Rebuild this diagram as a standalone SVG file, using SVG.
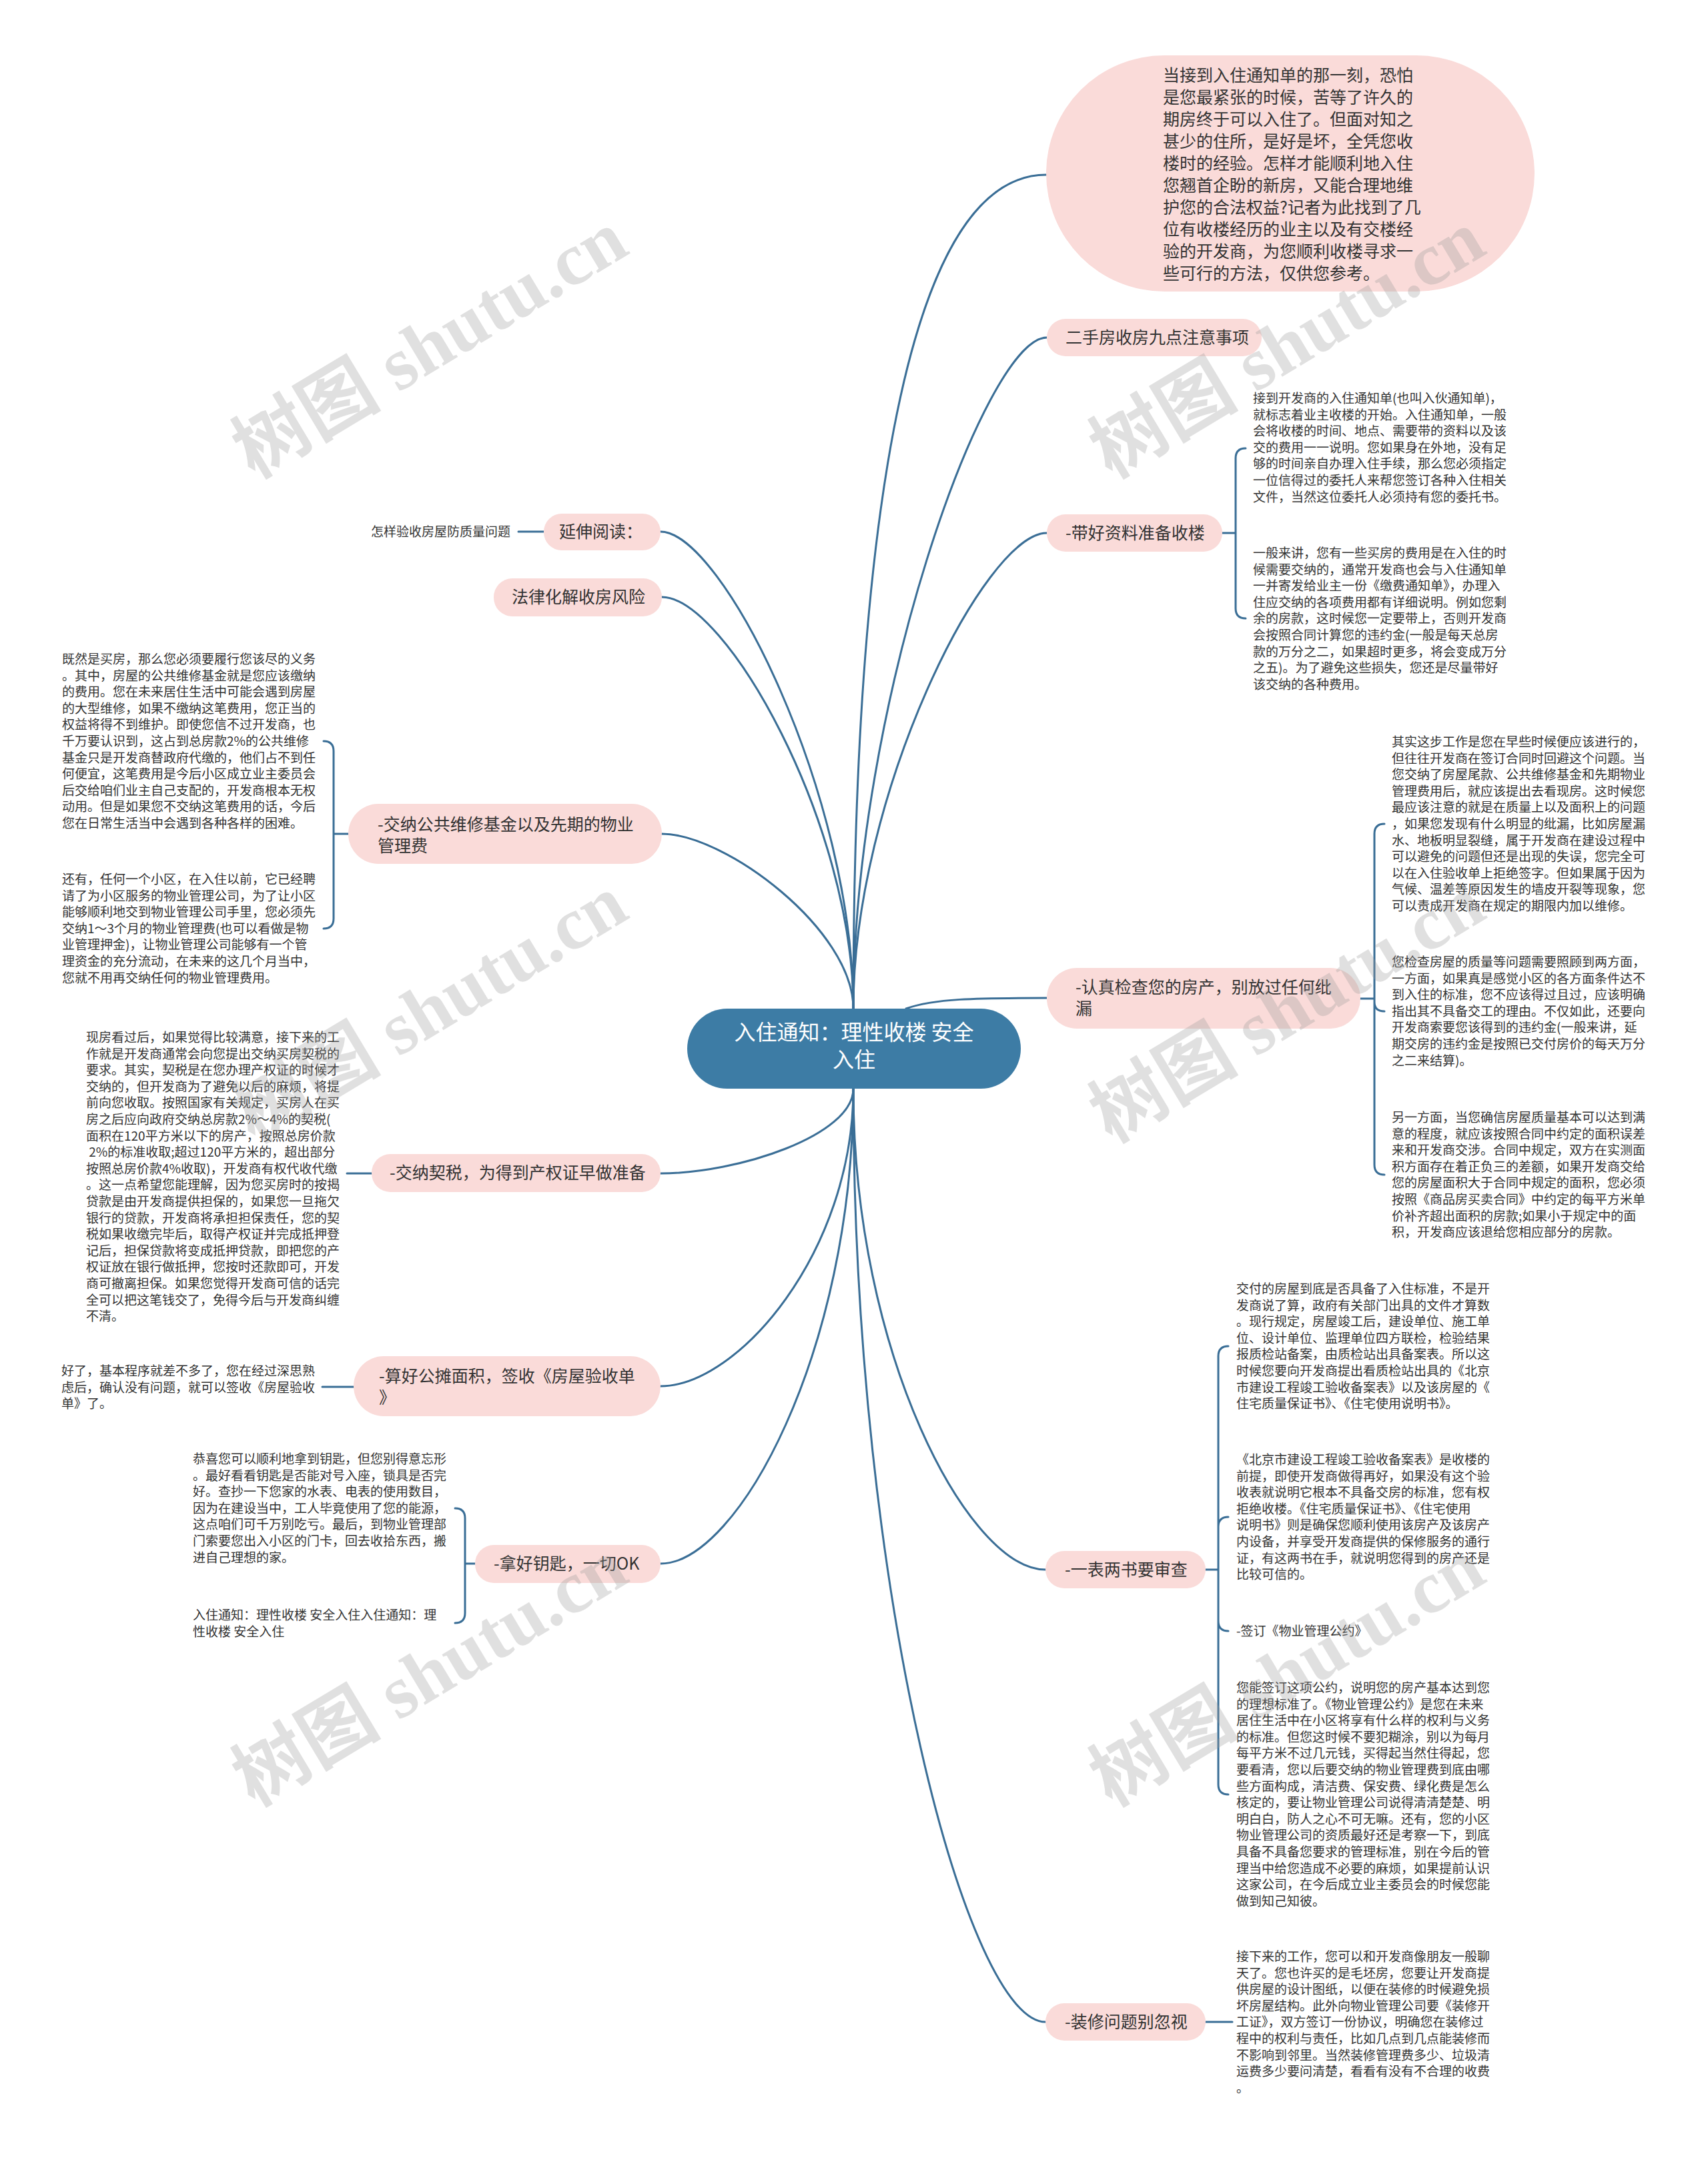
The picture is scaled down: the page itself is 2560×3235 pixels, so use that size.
<svg xmlns="http://www.w3.org/2000/svg" width="2560" height="3235" viewBox="0 0 2560 3235">
<style>
.bg{fill:#ffffff}
.n{fill:#fadbd9}
.c{fill:none;stroke:#3a6e96;stroke-width:3;stroke-linecap:round}
.t{font-family:"Noto Sans CJK SC","Liberation Sans",sans-serif;font-size:25px;fill:#333333}
.s{font-family:"Noto Sans CJK SC","Liberation Sans",sans-serif;font-size:19px;fill:#333333}
.ct{font-family:"Noto Sans CJK SC","Liberation Sans",sans-serif;font-size:32px;fill:#ffffff}
.wm{font-family:"Liberation Serif","Noto Sans CJK SC",serif;font-size:112px;font-weight:bold;fill:#9a9a9a;opacity:0.3}
</style>
<rect class="bg" x="0" y="0" width="2560" height="3235"/>

<g id="connectors">
<path class="c" d="M1279 1512 C1279 1000 1320 262 1568 262"/>
<path class="c" d="M1279 1512 C1279 1059 1476 506 1569 506"/>
<path class="c" d="M1279 1512 C1279 1191 1476 799 1569 799"/>
<path class="c" d="M1279 1512 C1279 1190 1082 797 990 797"/>
<path class="c" d="M1279 1512 C1279 1234 1087 895 992 895"/>
<path class="c" d="M1279 1512 C1279 1394 1087 1250 992 1250"/>
<path class="c" d="M1358 1512 C1400 1497 1460 1496 1569 1496"/>
<path class="c" d="M1279 1632 C1279 1702 1106 1759 990 1759"/>
<path class="c" d="M1279 1632 C1279 1877 1106 2078 990 2078"/>
<path class="c" d="M1279 1632 C1279 2024 1106 2344 990 2344"/>
<path class="c" d="M1279 1632 C1279 2029 1452 2353 1567 2353"/>
<path class="c" d="M1279 1632 C1279 2401 1452 3031 1567 3031"/>
<!-- leaf connectors -->
<path class="c" d="M815 797 H777"/>
<path class="c" d="M1832 799 H1852 M1852 799 V687 Q1852 672 1867 672 M1852 799 V912 Q1852 927 1867 927"/>
<path class="c" d="M2039 1497 H2060 M2060 1497 V1250 Q2060 1235 2075 1235 M2060 1497 V1502 Q2060 1516 2075 1516 M2060 1497 V1746 Q2060 1761 2075 1761"/>
<path class="c" d="M522 1250 H500 M500 1250 V1126 Q500 1111 485 1111 M500 1250 V1377 Q500 1392 485 1392"/>
<path class="c" d="M557 1759 H520"/>
<path class="c" d="M530 2079 H483"/>
<path class="c" d="M712 2344 H697 M697 2344 V2276 Q697 2261 682 2261 M697 2344 V2418 Q697 2433 682 2433"/>
<path class="c" d="M1807 2353 H1826 M1826 2353 V2033 Q1826 2018 1841 2018 M1826 2353 V2289 Q1826 2274 1841 2274 M1826 2353 V2430 Q1826 2445 1841 2445 M1826 2353 V2675 Q1826 2690 1841 2690"/>
<path class="c" d="M1807 3031 H1847"/>
</g>

<g id="center">
<rect x="1030" y="1512" width="500" height="120" rx="60" fill="#3d7ca5"/>
<text class="ct" text-anchor="middle"><tspan x="1280" y="1559">入住通知：理性收楼 安全</tspan><tspan x="1280" y="1600">入住</tspan></text>
</g>

<g id="intro">
<rect class="n" x="1568" y="83" width="732" height="354" rx="177"/>
<text class="t"><tspan x="1743" y="122">当接到入住通知单的那一刻，恐怕</tspan><tspan x="1743" dy="33">是您最紧张的时候，苦等了许久的</tspan><tspan x="1743" dy="33">期房终于可以入住了。但面对知之</tspan><tspan x="1743" dy="33">甚少的住所，是好是坏，全凭您收</tspan><tspan x="1743" dy="33">楼时的经验。怎样才能顺利地入住</tspan><tspan x="1743" dy="33">您翘首企盼的新房，又能合理地维</tspan><tspan x="1743" dy="33">护您的合法权益?记者为此找到了几</tspan><tspan x="1743" dy="33">位有收楼经历的业主以及有交楼经</tspan><tspan x="1743" dy="33">验的开发商，为您顺利收楼寻求一</tspan><tspan x="1743" dy="33">些可行的方法，仅供您参考。</tspan></text>
</g>

<g id="n-ershou">
<rect class="n" x="1569" y="478" width="322" height="56" rx="28"/>
<text class="t" x="1597" y="515">二手房收房九点注意事项</text>
</g>

<g id="n-daihao">
<rect class="n" x="1569" y="771" width="263" height="56" rx="28"/>
<text class="t" x="1597" y="808">-带好资料准备收楼</text>
<text class="s"><tspan x="1878" y="604">接到开发商的入住通知单(也叫入伙通知单)，</tspan><tspan x="1878" dy="24.6">就标志着业主收楼的开始。入住通知单，一般</tspan><tspan x="1878" dy="24.6">会将收楼的时间、地点、需要带的资料以及该</tspan><tspan x="1878" dy="24.6">交的费用一一说明。您如果身在外地，没有足</tspan><tspan x="1878" dy="24.6">够的时间亲自办理入住手续，那么您必须指定</tspan><tspan x="1878" dy="24.6">一位信得过的委托人来帮您签订各种入住相关</tspan><tspan x="1878" dy="24.6">文件，当然这位委托人必须持有您的委托书。</tspan></text>
<text class="s"><tspan x="1878" y="836">一般来讲，您有一些买房的费用是在入住的时</tspan><tspan x="1878" dy="24.6">候需要交纳的，通常开发商也会与入住通知单</tspan><tspan x="1878" dy="24.6">一并寄发给业主一份《缴费通知单》，办理入</tspan><tspan x="1878" dy="24.6">住应交纳的各项费用都有详细说明。例如您剩</tspan><tspan x="1878" dy="24.6">余的房款，这时候您一定要带上，否则开发商</tspan><tspan x="1878" dy="24.6">会按照合同计算您的违约金(一般是每天总房</tspan><tspan x="1878" dy="24.6">款的万分之二，如果超时更多，将会变成万分</tspan><tspan x="1878" dy="24.6">之五)。为了避免这些损失，您还是尽量带好</tspan><tspan x="1878" dy="24.6">该交纳的各种费用。</tspan></text>
</g>

<g id="n-yanshen">
<rect class="n" x="815" y="770" width="175" height="55" rx="27"/>
<text class="t" x="838" y="806">延伸阅读：</text>
<text class="s" x="556" y="804">怎样验收房屋防质量问题</text>
</g>

<g id="n-falv">
<rect class="n" x="740" y="867" width="252" height="57" rx="28"/>
<text class="t" x="767" y="904">法律化解收房风险</text>
</g>

<g id="n-gonggong">
<rect class="n" x="522" y="1205" width="470" height="90" rx="45"/>
<text class="t"><tspan x="566" y="1245">-交纳公共维修基金以及先期的物业</tspan><tspan x="566" dy="32">管理费</tspan></text>
<text class="s"><tspan x="93" y="995">既然是买房，那么您必须要履行您该尽的义务</tspan><tspan x="93" dy="24.6">。其中，房屋的公共维修基金就是您应该缴纳</tspan><tspan x="93" dy="24.6">的费用。您在未来居住生活中可能会遇到房屋</tspan><tspan x="93" dy="24.6">的大型维修，如果不缴纳这笔费用，您正当的</tspan><tspan x="93" dy="24.6">权益将得不到维护。即使您信不过开发商，也</tspan><tspan x="93" dy="24.6">千万要认识到，这占到总房款2%的公共维修</tspan><tspan x="93" dy="24.6">基金只是开发商替政府代缴的，他们占不到任</tspan><tspan x="93" dy="24.6">何便宜，这笔费用是今后小区成立业主委员会</tspan><tspan x="93" dy="24.6">后交给咱们业主自己支配的，开发商根本无权</tspan><tspan x="93" dy="24.6">动用。但是如果您不交纳这笔费用的话，今后</tspan><tspan x="93" dy="24.6">您在日常生活当中会遇到各种各样的困难。</tspan></text>
<text class="s"><tspan x="93" y="1325">还有，任何一个小区，在入住以前，它已经聘</tspan><tspan x="93" dy="24.6">请了为小区服务的物业管理公司，为了让小区</tspan><tspan x="93" dy="24.6">能够顺利地交到物业管理公司手里，您必须先</tspan><tspan x="93" dy="24.6">交纳1～3个月的物业管理费(也可以看做是物</tspan><tspan x="93" dy="24.6">业管理押金)，让物业管理公司能够有一个管</tspan><tspan x="93" dy="24.6">理资金的充分流动，在未来的这几个月当中，</tspan><tspan x="93" dy="24.6">您就不用再交纳任何的物业管理费用。</tspan></text>
</g>

<g id="n-jiancha">
<rect class="n" x="1569" y="1451" width="470" height="91" rx="45"/>
<text class="t"><tspan x="1612" y="1489">-认真检查您的房产，别放过任何纰</tspan><tspan x="1612" dy="32">漏</tspan></text>
<text class="s"><tspan x="2086" y="1119">其实这步工作是您在早些时候便应该进行的，</tspan><tspan x="2086" dy="24.6">但往往开发商在签订合同时回避这个问题。当</tspan><tspan x="2086" dy="24.6">您交纳了房屋尾款、公共维修基金和先期物业</tspan><tspan x="2086" dy="24.6">管理费用后，就应该提出去看现房。这时候您</tspan><tspan x="2086" dy="24.6">最应该注意的就是在质量上以及面积上的问题</tspan><tspan x="2086" dy="24.6">，如果您发现有什么明显的纰漏，比如房屋漏</tspan><tspan x="2086" dy="24.6">水、地板明显裂缝，属于开发商在建设过程中</tspan><tspan x="2086" dy="24.6">可以避免的问题但还是出现的失误，您完全可</tspan><tspan x="2086" dy="24.6">以在入住验收单上拒绝签字。但如果属于因为</tspan><tspan x="2086" dy="24.6">气候、温差等原因发生的墙皮开裂等现象，您</tspan><tspan x="2086" dy="24.6">可以责成开发商在规定的期限内加以维修。</tspan></text>
<text class="s"><tspan x="2086" y="1449">您检查房屋的质量等问题需要照顾到两方面，</tspan><tspan x="2086" dy="24.6">一方面，如果真是感觉小区的各方面条件达不</tspan><tspan x="2086" dy="24.6">到入住的标准，您不应该得过且过，应该明确</tspan><tspan x="2086" dy="24.6">指出其不具备交工的理由。不仅如此，还要向</tspan><tspan x="2086" dy="24.6">开发商索要您该得到的违约金(一般来讲，延</tspan><tspan x="2086" dy="24.6">期交房的违约金是按照已交付房价的每天万分</tspan><tspan x="2086" dy="24.6">之二来结算)。</tspan></text>
<text class="s"><tspan x="2086" y="1682">另一方面，当您确信房屋质量基本可以达到满</tspan><tspan x="2086" dy="24.6">意的程度，就应该按照合同中约定的面积误差</tspan><tspan x="2086" dy="24.6">来和开发商交涉。合同中规定，双方在实测面</tspan><tspan x="2086" dy="24.6">积方面存在着正负三的差额，如果开发商交给</tspan><tspan x="2086" dy="24.6">您的房屋面积大于合同中规定的面积，您必须</tspan><tspan x="2086" dy="24.6">按照《商品房买卖合同》中约定的每平方米单</tspan><tspan x="2086" dy="24.6">价补齐超出面积的房款;如果小于规定中的面</tspan><tspan x="2086" dy="24.6">积，开发商应该退给您相应部分的房款。</tspan></text>
</g>

<g id="n-qishui">
<rect class="n" x="557" y="1730" width="433" height="57" rx="28"/>
<text class="t" x="584" y="1767">-交纳契税，为得到产权证早做准备</text>
<text class="s"><tspan x="129" y="1562">现房看过后，如果觉得比较满意，接下来的工</tspan><tspan x="129" dy="24.6">作就是开发商通常会向您提出交纳买房契税的</tspan><tspan x="129" dy="24.6">要求。其实，契税是在您办理产权证的时候才</tspan><tspan x="129" dy="24.6">交纳的，但开发商为了避免以后的麻烦，将提</tspan><tspan x="129" dy="24.6">前向您收取。按照国家有关规定，买房人在买</tspan><tspan x="129" dy="24.6">房之后应向政府交纳总房款2%～4%的契税(</tspan><tspan x="129" dy="24.6">面积在120平方米以下的房产，按照总房价款</tspan><tspan x="129" dy="24.6"> 2%的标准收取;超过120平方米的，超出部分</tspan><tspan x="129" dy="24.6">按照总房价款4%收取)，开发商有权代收代缴</tspan><tspan x="129" dy="24.6">。这一点希望您能理解，因为您买房时的按揭</tspan><tspan x="129" dy="24.6">贷款是由开发商提供担保的，如果您一旦拖欠</tspan><tspan x="129" dy="24.6">银行的贷款，开发商将承担担保责任，您的契</tspan><tspan x="129" dy="24.6">税如果收缴完毕后，取得产权证并完成抵押登</tspan><tspan x="129" dy="24.6">记后，担保贷款将变成抵押贷款，即把您的产</tspan><tspan x="129" dy="24.6">权证放在银行做抵押，您按时还款即可，开发</tspan><tspan x="129" dy="24.6">商可撤离担保。如果您觉得开发商可信的话完</tspan><tspan x="129" dy="24.6">全可以把这笔钱交了，免得今后与开发商纠缠</tspan><tspan x="129" dy="24.6">不清。</tspan></text>
</g>

<g id="n-gongtan">
<rect class="n" x="530" y="2033" width="460" height="90" rx="45"/>
<text class="t"><tspan x="568" y="2072">-算好公摊面积，签收《房屋验收单</tspan><tspan x="568" dy="32">》</tspan></text>
<text class="s"><tspan x="92" y="2062">好了，基本程序就差不多了，您在经过深思熟</tspan><tspan x="92" dy="24.6">虑后，确认没有问题，就可以签收《房屋验收</tspan><tspan x="92" dy="24.6">单》了。</tspan></text>
</g>

<g id="n-yaoshi">
<rect class="n" x="712" y="2316" width="278" height="57" rx="28"/>
<text class="t" x="740" y="2353">-拿好钥匙，一切OK</text>
<text class="s"><tspan x="289" y="2194">恭喜您可以顺利地拿到钥匙，但您别得意忘形</tspan><tspan x="289" dy="24.6">。最好看看钥匙是否能对号入座，锁具是否完</tspan><tspan x="289" dy="24.6">好。查抄一下您家的水表、电表的使用数目，</tspan><tspan x="289" dy="24.6">因为在建设当中，工人毕竟使用了您的能源，</tspan><tspan x="289" dy="24.6">这点咱们可千万别吃亏。最后，到物业管理部</tspan><tspan x="289" dy="24.6">门索要您出入小区的门卡，回去收拾东西，搬</tspan><tspan x="289" dy="24.6">进自己理想的家。</tspan></text>
<text class="s"><tspan x="289" y="2428">入住通知：理性收楼 安全入住入住通知：理</tspan><tspan x="289" dy="24.6">性收楼 安全入住</tspan></text>
</g>

<g id="n-yibiao">
<rect class="n" x="1567" y="2325" width="240" height="56" rx="28"/>
<text class="t" x="1596" y="2362">-一表两书要审查</text>
<text class="s"><tspan x="1853" y="1939">交付的房屋到底是否具备了入住标准，不是开</tspan><tspan x="1853" dy="24.6">发商说了算，政府有关部门出具的文件才算数</tspan><tspan x="1853" dy="24.6">。现行规定，房屋竣工后，建设单位、施工单</tspan><tspan x="1853" dy="24.6">位、设计单位、监理单位四方联检，检验结果</tspan><tspan x="1853" dy="24.6">报质检站备案，由质检站出具备案表。所以这</tspan><tspan x="1853" dy="24.6">时候您要向开发商提出看质检站出具的《北京</tspan><tspan x="1853" dy="24.6">市建设工程竣工验收备案表》以及该房屋的《</tspan><tspan x="1853" dy="24.6">住宅质量保证书》、《住宅使用说明书》。</tspan></text>
<text class="s"><tspan x="1853" y="2195">《北京市建设工程竣工验收备案表》是收楼的</tspan><tspan x="1853" dy="24.6">前提，即使开发商做得再好，如果没有这个验</tspan><tspan x="1853" dy="24.6">收表就说明它根本不具备交房的标准，您有权</tspan><tspan x="1853" dy="24.6">拒绝收楼。《住宅质量保证书》、《住宅使用</tspan><tspan x="1853" dy="24.6">说明书》则是确保您顺利使用该房产及该房产</tspan><tspan x="1853" dy="24.6">内设备，并享受开发商提供的保修服务的通行</tspan><tspan x="1853" dy="24.6">证，有这两书在手，就说明您得到的房产还是</tspan><tspan x="1853" dy="24.6">比较可信的。</tspan></text>
<text class="s" x="1853" y="2452">-签订《物业管理公约》</text>
<text class="s"><tspan x="1853" y="2537">您能签订这项公约，说明您的房产基本达到您</tspan><tspan x="1853" dy="24.6">的理想标准了。《物业管理公约》是您在未来</tspan><tspan x="1853" dy="24.6">居住生活中在小区将享有什么样的权利与义务</tspan><tspan x="1853" dy="24.6">的标准。但您这时候不要犯糊涂，别以为每月</tspan><tspan x="1853" dy="24.6">每平方米不过几元钱，买得起当然住得起，您</tspan><tspan x="1853" dy="24.6">要看清，您以后要交纳的物业管理费到底由哪</tspan><tspan x="1853" dy="24.6">些方面构成，清洁费、保安费、绿化费是怎么</tspan><tspan x="1853" dy="24.6">核定的，要让物业管理公司说得清清楚楚、明</tspan><tspan x="1853" dy="24.6">明白白，防人之心不可无嘛。还有，您的小区</tspan><tspan x="1853" dy="24.6">物业管理公司的资质最好还是考察一下，到底</tspan><tspan x="1853" dy="24.6">具备不具备您要求的管理标准，别在今后的管</tspan><tspan x="1853" dy="24.6">理当中给您造成不必要的麻烦，如果提前认识</tspan><tspan x="1853" dy="24.6">这家公司，在今后成立业主委员会的时候您能</tspan><tspan x="1853" dy="24.6">做到知己知彼。</tspan></text>
</g>

<g id="n-zhuangxiu">
<rect class="n" x="1567" y="3003" width="240" height="56" rx="28"/>
<text class="t" x="1596" y="3040">-装修问题别忽视</text>
<text class="s"><tspan x="1853" y="2940">接下来的工作，您可以和开发商像朋友一般聊</tspan><tspan x="1853" dy="24.6">天了。您也许买的是毛坯房，您要让开发商提</tspan><tspan x="1853" dy="24.6">供房屋的设计图纸，以便在装修的时候避免损</tspan><tspan x="1853" dy="24.6">坏房屋结构。此外向物业管理公司要《装修开</tspan><tspan x="1853" dy="24.6">工证》，双方签订一份协议，明确您在装修过</tspan><tspan x="1853" dy="24.6">程中的权利与责任，比如几点到几点能装修而</tspan><tspan x="1853" dy="24.6">不影响到邻里。当然装修管理费多少、垃圾清</tspan><tspan x="1853" dy="24.6">运费多少要问清楚，看看有没有不合理的收费</tspan><tspan x="1853" dy="24.6">。</tspan></text>
</g>

<g id="watermarks">
<text class="wm" text-anchor="middle" transform="translate(644 516) rotate(-31)" y="38">树图 shutu.cn</text>
<text class="wm" text-anchor="middle" transform="translate(644 1512) rotate(-31)" y="38">树图 shutu.cn</text>
<text class="wm" text-anchor="middle" transform="translate(644 2507) rotate(-31)" y="38">树图 shutu.cn</text>
<text class="wm" text-anchor="middle" transform="translate(1929 516) rotate(-31)" y="38">树图 shutu.cn</text>
<text class="wm" text-anchor="middle" transform="translate(1929 1512) rotate(-31)" y="38">树图 shutu.cn</text>
<text class="wm" text-anchor="middle" transform="translate(1929 2507) rotate(-31)" y="38">树图 shutu.cn</text>
</g>
</svg>
